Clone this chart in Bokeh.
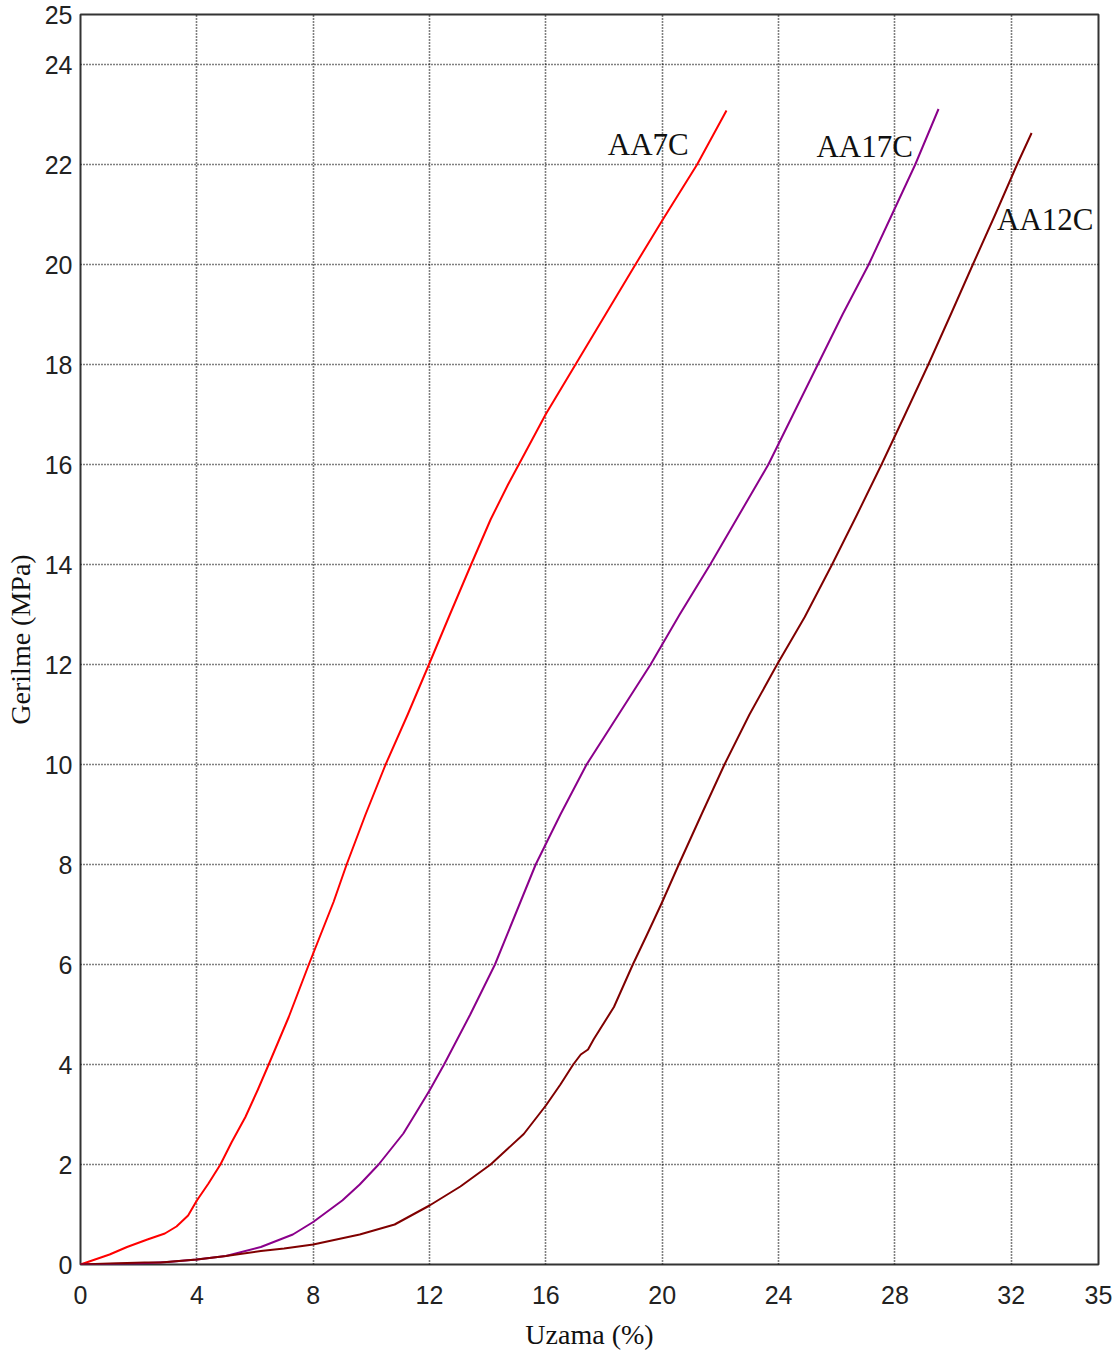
from bokeh.plotting import figure
from bokeh.models import FixedTicker, ColumnDataSource
from bokeh.core.properties import value
from bokeh.embed import file_html
from bokeh.resources import INLINE

# ---- data ----
aa7c_x = [0, 0.5, 1.0, 1.6, 2.3, 2.9, 3.3, 3.7, 4.0, 4.4, 4.81, 5.2, 5.67, 6.1, 6.47, 7.16, 7.85,
          8.7, 9.15, 9.8, 10.49, 11.25, 11.98, 12.7, 13.43, 14.1, 14.7, 15.3, 16.0, 17.02, 18.05,
          19.08, 20.0, 21.2, 22.21]
aa7c_y = [0, 0.1, 0.2, 0.35, 0.5, 0.62, 0.76, 0.98, 1.28, 1.62, 2.0, 2.45, 2.95, 3.5, 4.0, 4.95, 6.0,
          7.25, 8.0, 9.0, 10.0, 11.0, 12.0, 13.0, 14.0, 14.9, 15.6, 16.25, 17.01, 18.0, 19.0,
          20.0, 20.88, 22.0, 23.08]

aa17c_x = [0, 2.0, 3.0, 4.0, 5.0, 6.2, 7.3, 8.0, 9.0, 9.6, 10.25, 11.1, 11.5, 12.0, 12.5, 13.4,
           14.25, 14.95, 15.65, 16.5, 17.4, 18.5, 19.6, 20.6, 21.65, 22.65, 23.65, 24.5, 25.35,
           26.2, 27.1, 27.9, 28.7, 29.5]
aa17c_y = [0, 0.02, 0.05, 0.1, 0.17, 0.35, 0.6, 0.85, 1.28, 1.6, 2.0, 2.62, 3.0, 3.48, 4.0, 5.0,
           6.0, 7.0, 8.0, 9.0, 10.0, 11.0, 12.0, 13.0, 14.0, 15.0, 16.0, 17.0, 18.0,
           19.0, 20.0, 21.0, 22.0, 23.11]

aa12c_x = [0, 1.0, 2.2, 2.75, 4.0, 5.0, 6.2, 7.0, 8.0, 9.6, 10.8, 12.0, 13.06, 14.1, 15.24, 16.0,
           16.5, 16.94, 17.2, 17.45, 17.65, 18.34, 18.99, 19.48, 20.0, 20.57, 21.35, 22.14, 23.0,
           23.95, 24.9, 25.84, 26.7, 27.54, 28.35, 29.15, 29.92, 30.68, 31.45, 32.2, 32.7]
aa12c_y = [0, 0.02, 0.04, 0.04, 0.1, 0.17, 0.27, 0.32, 0.4, 0.6, 0.8, 1.18, 1.56, 2.0, 2.61, 3.18,
           3.6, 4.0, 4.2, 4.3, 4.51, 5.15, 6.0, 6.6, 7.25, 8.0, 9.0, 10.0, 11.0,
           12.0, 12.95, 14.0, 15.0, 16.0, 17.0, 18.0, 19.0, 20.0, 21.0, 22.0, 22.63]

series_names = ["AA7C", "AA17C", "AA12C"]
x_ticks = [0, 4, 8, 12, 16, 20, 24, 28, 32, 35]
y_ticks = [0, 2, 4, 6, 8, 10, 12, 14, 16, 18, 20, 22, 24, 25]

# label anchor points (data coordinates)
label_x = [19.52, 26.96, 33.17]
label_y = [22.4, 22.36, 20.9]

colors = ["#ff0000", "#8b008b", "#800000"]

p = figure(width=1112, height=1352, output_backend="svg", toolbar_location=None,
           x_range=(0, 35), y_range=(0, 25),
           min_border_left=80, min_border_right=14, min_border_top=14, min_border_bottom=88)

p.background_fill_color = "white"
p.border_fill_color = "white"
p.outline_line_color = "#333333"
p.outline_line_width = 2

for g in (p.xgrid, p.ygrid):
    g.grid_line_color = "#000000"
    g.grid_line_dash = "1 2"
    g.grid_line_width = 1.6

p.xaxis.ticker = FixedTicker(ticks=x_ticks)
p.yaxis.ticker = FixedTicker(ticks=y_ticks)
p.xgrid.ticker = FixedTicker(ticks=x_ticks)
p.ygrid.ticker = FixedTicker(ticks=y_ticks)

for ax in (p.xaxis, p.yaxis):
    ax.axis_line_color = None
    ax.major_tick_line_color = None
    ax.minor_tick_line_color = None
    ax.major_tick_out = 0
    ax.major_tick_in = 0
    ax.major_label_text_font = "Liberation Sans"
    ax.major_label_text_font_size = "25px"
    ax.major_label_text_color = "#222222"
    ax.axis_label_text_font = "Liberation Serif"
    ax.axis_label_text_font_size = "28px"
    ax.axis_label_text_font_style = "normal"
    ax.axis_label_text_color = "#111111"

p.xaxis.axis_label = "Uzama (%)"
p.yaxis.axis_label = "Gerilme (MPa)"
p.xaxis.major_label_standoff = 21
p.yaxis.major_label_standoff = 8
p.xaxis.axis_label_standoff = 12
p.yaxis.axis_label_standoff = 6

for xs, ys, c in zip([aa7c_x, aa17c_x, aa12c_x], [aa7c_y, aa17c_y, aa12c_y], colors):
    p.line(xs, ys, line_color=c, line_width=2, line_join="round")

src = ColumnDataSource(dict(x=label_x, y=label_y, t=series_names))
p.text(x="x", y="y", text="t", source=src, text_font=value("Liberation Serif"),
       text_font_size="31px", text_align="center", text_baseline="middle", text_color="#111111")

open("out.html", "w").write(file_html(p, INLINE))
